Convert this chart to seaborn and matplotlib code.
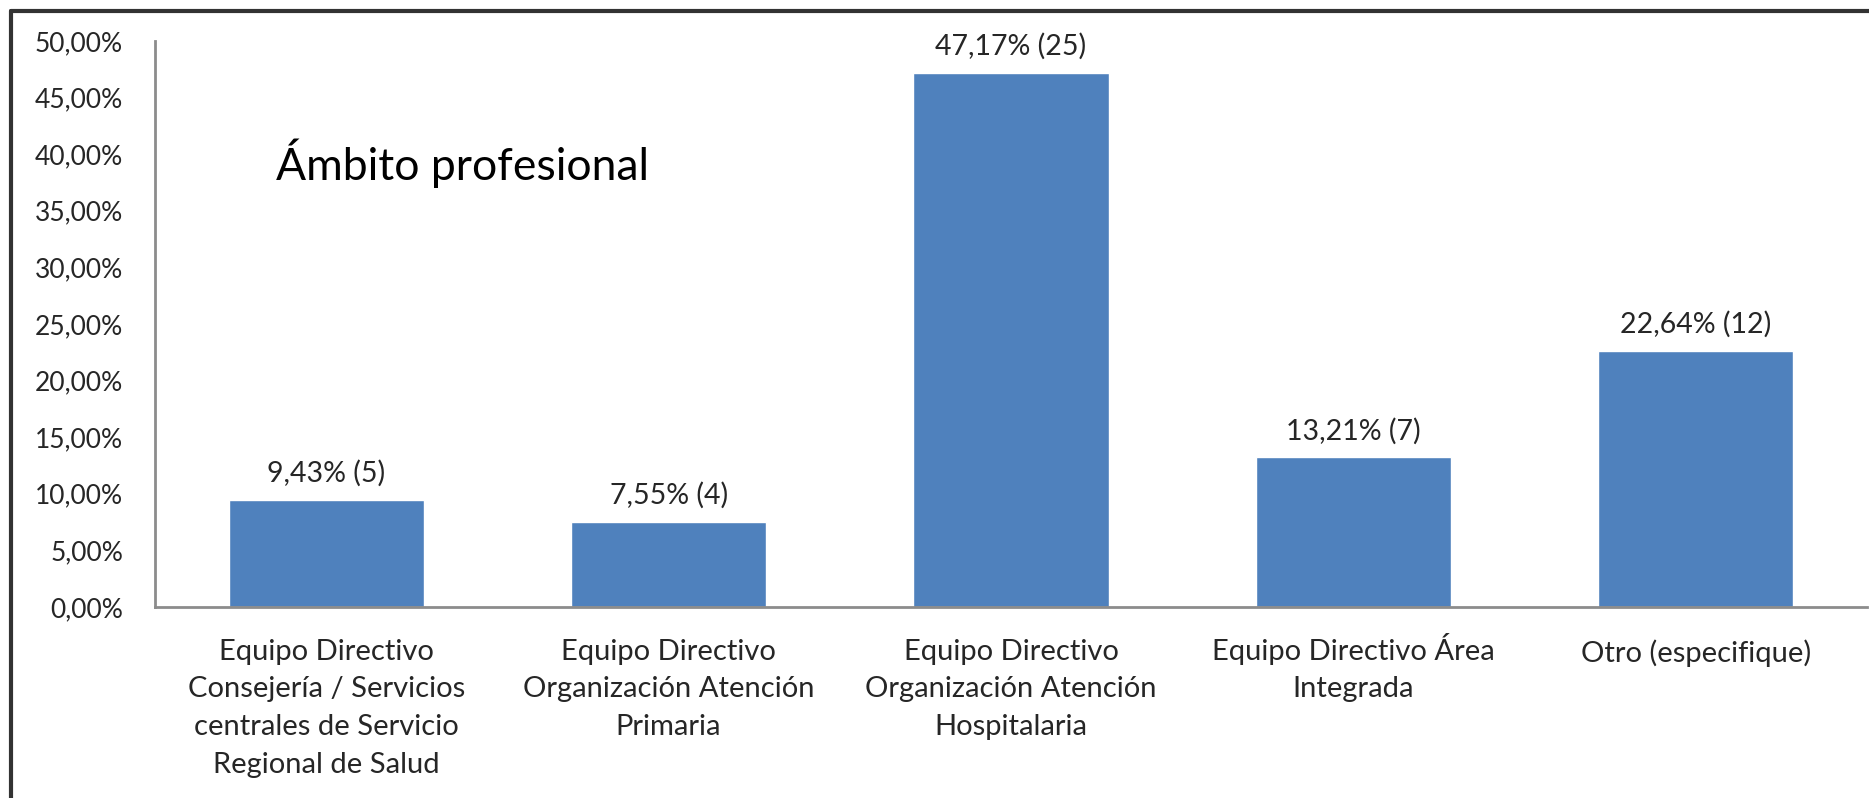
import matplotlib
matplotlib.use("Agg")
import matplotlib.pyplot as plt
import matplotlib.ticker as mticker
from matplotlib.lines import Line2D
from matplotlib.transforms import ScaledTranslation
import seaborn as sns
import pandas as pd

# data
categorias = [
    "Equipo Directivo\nConsejería / Servicios\ncentrales de Servicio\nRegional de Salud",
    "Equipo Directivo\nOrganización Atención\nPrimaria",
    "Equipo Directivo\nOrganización Atención\nHospitalaria",
    "Equipo Directivo Área\nIntegrada",
    "Otro (especifique)",
]
porcentajes = [9.43, 7.55, 47.17, 13.21, 22.64]
respuestas = [5, 4, 25, 7, 12]
y_ticks = [0, 5, 10, 15, 20, 25, 30, 35, 40, 45, 50]

df = pd.DataFrame({"cat": categorias, "pct": porcentajes, "n": respuestas})

sns.set_style("white")
plt.rcParams['font.family'] = ['Lato', 'DejaVu Sans']

texto = "#262626"
eje = "#8c8c8c"

fig = plt.figure(figsize=(18.69, 7.98), dpi=100)
ax = fig.add_axes([155 / 1869, 1 - 607 / 798, (1867 - 155) / 1869, (607 - 41) / 798])

sns.barplot(data=df, x="cat", y="pct", color="#4F81BD", width=0.57,
            saturation=1, ax=ax)

ax.set_ylim(0, 50)
ax.set_xlim(-0.5, 4.5)
ax.set_yticks(y_ticks)
ax.yaxis.set_major_formatter(mticker.FuncFormatter(lambda v, p: f"{v:.2f}%".replace(".", ",")))
ax.tick_params(axis="y", labelsize=19, colors=texto, length=0, pad=23)
ax.tick_params(axis="x", labelsize=21, colors=texto, length=0, pad=23)
for lbl in ax.get_xticklabels():
    lbl.set_linespacing(1.55)
    # accented capital on the first line pushes the block down; lift it back
    if "Á" in lbl.get_text().split("\n")[0]:
        lbl.set_transform(lbl.get_transform() + ScaledTranslation(0, 4.5 / 72, fig.dpi_scale_trans))
ax.set_xlabel("")
ax.set_ylabel("")

for s in ["top", "right"]:
    ax.spines[s].set_visible(False)
for s in ["left", "bottom"]:
    ax.spines[s].set_color(eje)
    ax.spines[s].set_linewidth(2)

for i, (p, n) in enumerate(zip(porcentajes, respuestas)):
    ax.annotate(f"{p:.2f}% ({n})".replace(".", ","), (i, p), xytext=(0, 13),
                textcoords="offset points", ha="center", va="baseline",
                fontsize=20.5, color=texto)

ax.text(0.0706, 0.784, "Ámbito profesional", transform=ax.transAxes,
        fontsize=32, color="black", ha="left", va="center")

# outer frame (left and top edges)
fig.add_artist(Line2D([11 / 1869, 11 / 1869], [0, 1 - 11 / 798], transform=fig.transFigure,
                      color="#333333", linewidth=3))
fig.add_artist(Line2D([11 / 1869, 1], [1 - 11 / 798, 1 - 11 / 798], transform=fig.transFigure,
                      color="#333333", linewidth=3))

fig.savefig("out.png", dpi=100, facecolor="white")
